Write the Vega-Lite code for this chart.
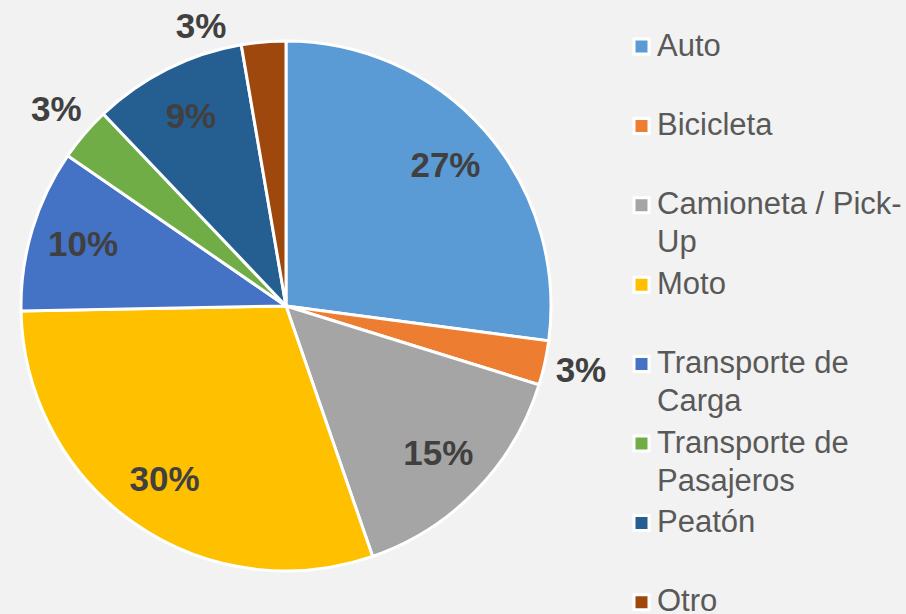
{
  "$schema": "https://vega.github.io/schema/vega-lite/v6.json",
  "width": 572,
  "height": 612,
  "autosize": {"type": "none"},
  "padding": {"left": 0, "top": 0, "right": 334, "bottom": 2},
  "background": "#F2F2F2",
  "config": {"view": {"stroke": null}},
  "data": {
    "values": [
      {"idx": 1, "category": "Auto", "share": 0.271},
      {"idx": 2, "category": "Bicicleta", "share": 0.027},
      {"idx": 3, "category": "Camioneta / Pick-Up", "share": 0.149},
      {"idx": 4, "category": "Moto", "share": 0.300},
      {"idx": 5, "category": "Transporte de Carga", "share": 0.099},
      {"idx": 6, "category": "Transporte de Pasajeros", "share": 0.033},
      {"idx": 7, "category": "Peatón", "share": 0.094},
      {"idx": 8, "category": "Otro", "share": 0.027}
    ]
  },
  "encoding": {
    "theta": {"field": "share", "type": "quantitative", "stack": true},
    "order": {"field": "idx", "type": "quantitative"}
  },
  "layer": [
    {
      "mark": {"type": "arc", "outerRadius": 265, "stroke": "white", "strokeWidth": 3},
      "encoding": {
        "color": {
          "field": "category",
          "type": "nominal",
          "scale": {
            "domain": ["Auto", "Bicicleta", "Camioneta / Pick-Up", "Moto", "Transporte de Carga", "Transporte de Pasajeros", "Peatón", "Otro"],
            "range": ["#5B9BD5", "#ED7D31", "#A5A5A5", "#FFC000", "#4472C4", "#70AD47", "#255E91", "#9E480E"]
          },
          "legend": {
            "title": null,
            "orient": "none",
            "legendX": 626,
            "legendY": 31,
            "padding": 0,
            "symbolType": "square",
            "symbolSize": 225,
            "symbolStrokeColor": "white",
            "symbolStrokeWidth": 3,
            "labelFont": "Liberation Sans",
            "labelFontSize": 31,
            "labelColor": "#595959",
            "labelLimit": 400,
            "labelOffset": 0,
            "labelBaseline": "middle",
            "rowPadding": 9.4,
            "labelExpr": "datum.label == 'Camioneta / Pick-Up' ? ['Camioneta / Pick-', 'Up'] : datum.label == 'Transporte de Carga' ? ['Transporte de', 'Carga'] : datum.label == 'Transporte de Pasajeros' ? ['Transporte de', 'Pasajeros'] : [datum.label, '']",
            "encode": {
              "labels": {"update": {"lineHeight": {"value": 38}}},
              "symbols": {"update": {"stroke": {"value": "white"}, "strokeWidth": {"value": 3}}}
            }
          }
        }
      }
    },
    {
      "mark": {"type": "text", "radius": 212, "font": "Liberation Sans", "fontSize": 35, "fontWeight": "bold", "fill": "#404040"},
      "encoding": {
        "text": {"field": "share", "type": "quantitative", "format": ".0%", "condition": {"test": "datum.share < 0.05", "value": ""}}
      }
    },
    {
      "mark": {"type": "text", "radius": 302, "font": "Liberation Sans", "fontSize": 35, "fontWeight": "bold", "fill": "#404040"},
      "encoding": {
        "text": {"field": "share", "type": "quantitative", "format": ".0%", "condition": {"test": "datum.share >= 0.05 || datum.category == 'Otro'", "value": ""}}
      }
    },
    {
      "mark": {"type": "text", "radius": 292, "thetaOffset": -0.21, "font": "Liberation Sans", "fontSize": 35, "fontWeight": "bold", "fill": "#404040"},
      "encoding": {
        "text": {"field": "share", "type": "quantitative", "format": ".0%", "condition": {"test": "datum.category != 'Otro'", "value": ""}}
      }
    }
  ]
}
